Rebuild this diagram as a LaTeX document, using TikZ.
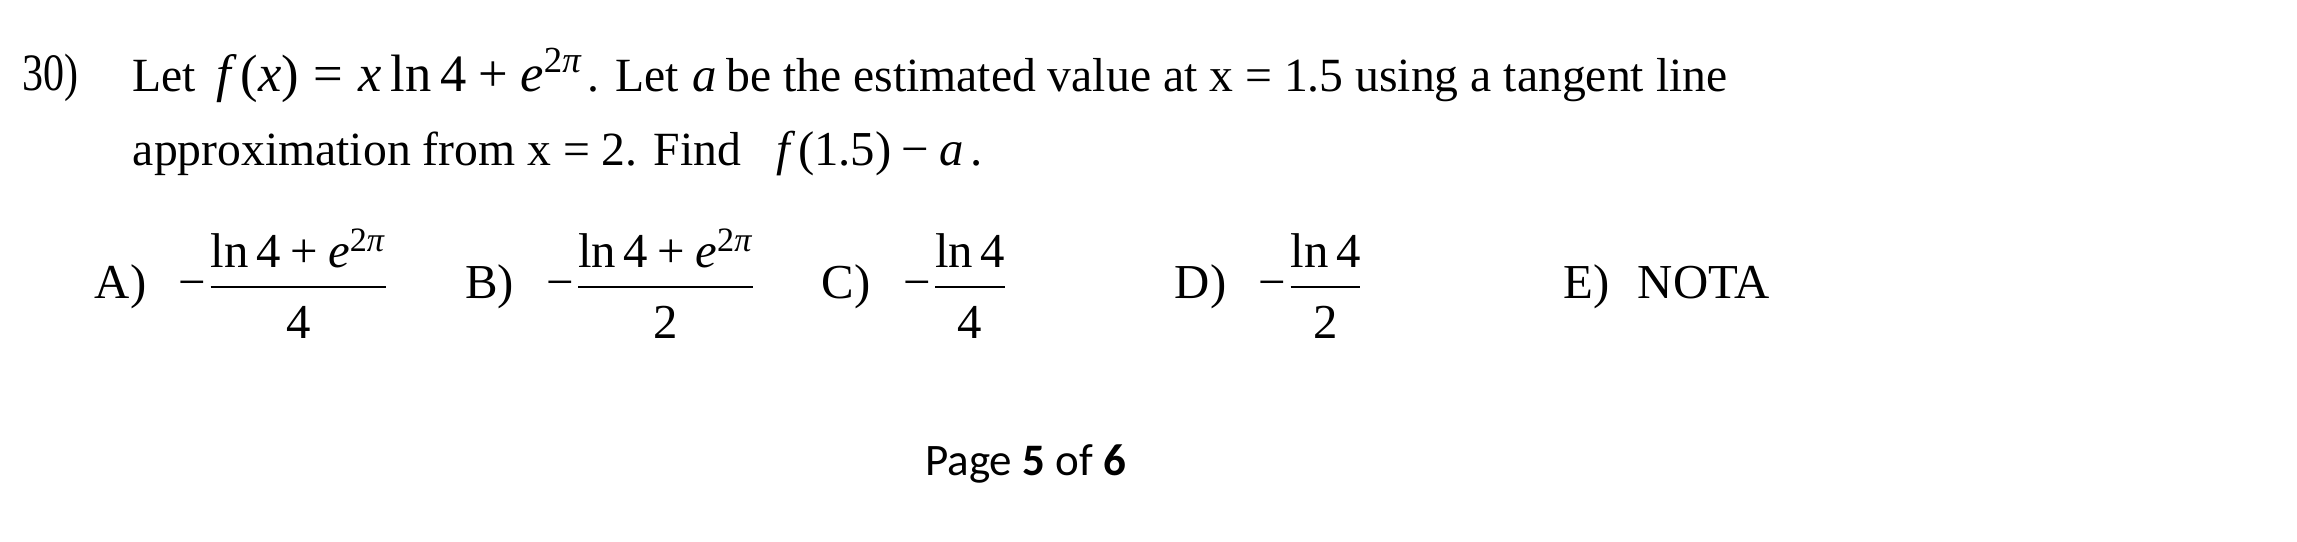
\documentclass[tikz,border=0pt]{standalone}
\usepackage{amsmath}
\usepackage{fontspec}
\setmainfont{Liberation Serif}
\newfontfamily\footfont{Carlito}
\newfontfamily\tms{Liberation Serif}[NFSSFamily=tms]
% Times-like math letters and digits
\DeclareSymbolFont{tmsup}{TU}{tms}{m}{n}
\DeclareSymbolFont{tmsit}{TU}{tms}{m}{it}
\def\setup#1{\Umathcode`#1="0 \symtmsup `#1\relax}
\def\setit#1{\Umathcode`#1="7 \symtmsit `#1\relax}
\AtBeginDocument{%
  \setup0\setup1\setup2\setup3\setup4\setup5\setup6\setup7\setup8\setup9\setup.
  \setit a\setit e\setit f\setit x
  \Umathcode`+="2 \symtmsup `+\relax
  \Umathcode`=="3 \symtmsup `=\relax
  \Umathcode`(="4 \symtmsup `(\relax
  \Umathcode`)="5 \symtmsup `)\relax
  \Umathcode`-="2 \symtmsup "2212\relax
  \Umathchardef\pi="0 \symtmsit "03C0\relax
  \renewcommand\ln{\mathop{\textrm{ln}}\nolimits}}
\newcommand\dnm[1]{\rule{0pt}{12.2pt}#1}
\usetikzlibrary{positioning}

\begin{document}
\begin{tikzpicture}[
  every node/.style = {inner sep=0pt, outer sep=0pt, anchor=base west,
    font=\fontsize{12.7}{15}\selectfont},
  qnum/.style = {font=\fontsize{14}{16}\selectfont},
  mth/.style = {font=\fontsize{13}{15}\selectfont},
  foot/.style = {font=\footfont\fontsize{12}{14}\selectfont}]
\useasboundingbox (0,0) rectangle (612pt,-144.4pt);

% the question
\node[qnum] (num) at (5.9pt,-24pt) {\scalebox{0.8}[1]{30)}};
\node (let1) at (35.2pt,-24.5pt) {Let};
\node[mth, font=\fontsize{14}{16}\selectfont] (fx) at (57.8pt,-24.5pt) {$f\,(x)=x\ln 4+e^{2\pi}$};
\node (let2) at (156.6pt,-24.5pt) {. Let};
\node[mth] (a1) at (184.6pt,-24.5pt) {$a$};
\node (line1) at (193.5pt,-24.5pt) {be the estimated value at x = 1.5 using a tangent line};

\node (line2) at (35.4pt,-44pt) {approximation from x = 2. Find};
\node[mth] (fa) at (207pt,-44pt) {$f\,(1.5)-a\,.$};

% answer choices
\begin{scope}[every node/.append style = {font=\fontsize{13}{15}\selectfont}]
\node (lblA) at (25.3pt,-79.4pt) {A)};
\node (ansA) [base right = 8.6pt of lblA] {$-\dfrac{\ln 4+e^{2\pi}}{\dnm{4}}$};
\node (lblB) at (123.9pt,-79.4pt) {B)};
\node (ansB) [base right = 8.6pt of lblB] {$-\dfrac{\ln 4+e^{2\pi}}{\dnm{2}}$};
\node (lblC) at (219pt,-79.4pt) {C)};
\node (ansC) [base right = 8.6pt of lblC] {$-\dfrac{\ln 4}{\dnm{4}}$};
\node (lblD) at (313pt,-79.4pt) {D)};
\node (ansD) [base right = 8.6pt of lblD] {$-\dfrac{\ln 4}{\dnm{2}}$};
\node (lblE) at (416.5pt,-79.4pt) {E)};
\node (ansE) [base right = 7.6pt of lblE] {NOTA};
\end{scope}

\node[foot] (page) at (246.5pt,-126.6pt) {Page \textbf{5} of \textbf{6}};
\end{tikzpicture}
\end{document}
